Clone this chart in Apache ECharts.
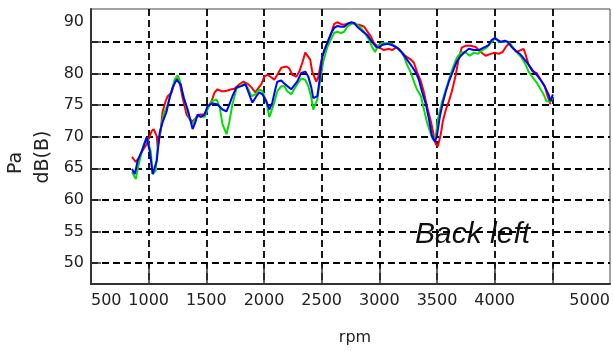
<!DOCTYPE html>
<html>
<head>
<meta charset="utf-8">
<script src="https://cdn.jsdelivr.net/npm/echarts@6/dist/echarts.min.js"></script>
<style>
  html, body { margin: 0; padding: 0; background: #fff; }
  #chart { width: 613px; height: 351px; }
</style>
</head>
<body>
<div id="chart"></div>
<script>
// x ticks / labels (rpm)
const xTicks = [1000, 1500, 2000, 2500, 3000, 3500, 4000, 4500];
const xLabels = [500, 1000, 1500, 2000, 2500, 3000, 3500, 4000, 5000];
// y ticks / labels (dB)
const yTicks = [50, 55, 60, 65, 70, 75, 80, 85];
const yLabels = [50, 55, 60, 65, 70, 75, 80, 90];

const redRpm = [855,888,914,940,957,983,1000,1026,1044,1070,1078,1104,1121,1147,1165,1199,1225,1251,1268,1294,1329,1355,1381,1415,1441,1484,1510,1545,1571,1597,1631,1657,1683,1718,1744,1787,1822,1856,1891,1925,1943,1977,2003,2029,2063,2089,2115,2150,2193,2219,2245,2280,2306,2332,2358,2375,2401,2418,2453,2470,2496,2522,2548,2583,2608,2634,2669,2695,2738,2764,2799,2825,2868,2894,2929,2955,2998,3041,3084,3110,3145,3171,3197,3231,3274,3300,3326,3361,3387,3413,3447,3473,3490,3508,3534,3551,3577,3603,3629,3663,3689,3715,3750,3793,3836,3879,3922,3966,4000,4035,4069,4104,4130,4156,4190,4225,4251,4268,4294,4329,4363,4398,4433,4459,4485];
const redDb = [66.8,66.0,66.6,67.6,68.1,68.8,69.6,70.9,71.2,70.1,68.4,70.9,74.0,75.6,76.4,77.0,78.6,79.2,78.6,76.2,73.5,72.8,72.4,73.1,73.5,73.5,74.6,75.6,77.0,77.5,77.2,77.2,77.3,77.5,77.6,78.3,78.7,78.4,77.8,77.0,77.5,78.3,79.5,79.8,79.4,79.0,79.8,80.9,81.1,80.8,79.8,79.5,80.3,81.7,83.3,83.3,82.2,80.3,78.7,79.4,81.9,83.7,84.8,86.4,87.8,88.1,87.8,87.7,88.0,88.0,87.7,87.7,87.4,86.7,85.8,84.8,84.1,83.7,83.9,83.7,84.1,83.9,83.3,82.7,82.2,81.7,80.3,78.7,77.0,74.8,72.4,70.1,68.8,68.5,70.5,72.5,74.3,75.6,77.2,79.8,82.5,84.1,84.4,84.4,84.2,83.4,82.8,83.1,83.3,83.1,83.4,84.4,84.8,84.1,83.4,83.7,83.9,83.0,81.4,80.3,80.1,79.0,78.0,76.4,75.1];

const greenRpm = [855,888,914,940,957,983,1000,1018,1035,1061,1078,1104,1130,1165,1199,1225,1251,1268,1294,1329,1355,1381,1415,1450,1484,1510,1545,1588,1614,1640,1675,1700,1726,1761,1804,1839,1865,1891,1925,1960,1986,2020,2046,2063,2089,2115,2150,2176,2202,2236,2262,2288,2323,2358,2384,2410,2427,2462,2488,2514,2548,2591,2608,2634,2669,2695,2721,2756,2782,2825,2868,2911,2937,2963,2989,3024,3067,3110,3153,3188,3214,3240,3274,3300,3326,3361,3387,3413,3447,3465,3490,3508,3542,3577,3603,3637,3672,3707,3750,3784,3819,3853,3888,3931,3974,4009,4035,4078,4121,4156,4190,4234,4268,4294,4329,4363,4398,4424,4450,4485,4505];
const greenDb = [64.4,63.3,65.7,67.6,68.8,69.9,69.9,67.7,64.1,64.6,68.4,71.2,73.5,75.1,77.2,79.0,79.7,79.0,77.0,74.6,72.8,72.0,73.1,73.3,73.1,74.3,75.6,75.9,74.8,72.0,70.4,72.4,75.1,77.6,78.1,78.4,77.5,76.4,76.7,77.5,77.2,75.6,73.1,73.3,75.4,77.2,78.0,78.0,77.2,76.7,77.5,78.3,79.2,79.0,78.0,76.2,74.3,75.9,79.0,81.9,84.1,85.8,86.4,86.6,86.4,86.6,87.4,87.8,88.0,87.5,86.6,85.3,84.2,83.4,84.4,84.8,84.8,84.7,84.1,83.4,82.7,81.4,80.1,78.7,77.5,76.4,74.3,72.3,70.4,69.5,70.1,72.8,75.4,77.5,79.0,80.9,82.5,83.3,83.3,82.8,83.3,83.1,83.6,84.1,85.0,85.6,85.0,85.0,85.0,84.2,83.4,82.5,81.4,80.3,79.4,78.6,77.5,76.7,75.6,75.6,76.2];

const blueRpm = [855,880,905,940,957,983,992,1009,1035,1070,1096,1121,1156,1182,1208,1242,1251,1277,1303,1338,1355,1381,1407,1424,1450,1484,1510,1554,1597,1640,1675,1700,1726,1761,1804,1839,1856,1882,1900,1934,1960,1986,2020,2046,2072,2098,2115,2150,2176,2202,2236,2262,2288,2323,2358,2384,2410,2427,2462,2479,2505,2548,2583,2608,2634,2669,2695,2721,2756,2782,2808,2851,2894,2937,2972,2998,3024,3067,3110,3153,3197,3240,3283,3318,3343,3369,3404,3430,3456,3482,3499,3525,3551,3577,3603,3637,3672,3707,3741,3776,3819,3862,3905,3948,3974,4000,4017,4052,4087,4113,4147,4182,4225,4260,4294,4329,4363,4398,4433,4467,4485,4493,4505];
const blueDb = [64.9,64.1,66.2,67.7,68.5,69.9,69.6,67.7,64.1,66.2,70.7,72.3,74.0,76.2,77.8,79.0,79.2,78.3,76.2,74.3,73.1,71.2,72.4,73.5,73.1,73.5,74.8,75.3,75.1,74.3,74.0,75.1,76.4,77.8,78.0,78.3,77.5,76.2,75.4,76.4,77.0,76.7,75.6,74.3,75.4,77.5,78.7,78.9,78.4,78.0,77.5,78.1,78.7,80.1,80.3,79.5,77.8,76.1,76.4,78.6,82.7,84.8,86.4,87.2,87.5,87.4,87.4,87.8,88.1,88.0,87.4,86.7,86.1,85.0,84.2,84.1,84.5,84.7,84.5,84.1,83.3,82.2,81.1,80.1,79.0,77.2,75.1,72.8,70.1,69.2,70.1,73.2,75.4,77.2,78.7,80.3,81.9,82.8,83.4,83.9,83.7,83.7,84.1,84.5,85.3,85.6,85.3,85.0,85.2,85.0,84.2,83.6,83.0,82.2,81.4,80.5,79.8,79.0,78.0,76.7,75.6,76.1,76.7];

const zip = (xs, ys) => xs.map((x, i) => [x, ys[i]]);

// top label "90" sits lower than its gridline in the original
const TOP_LABEL_AT = 88.1;
const yLabelPos = yLabels.map(v => (v === 90 ? TOP_LABEL_AT : v));

const chart = echarts.init(document.getElementById('chart'));

const gridLine = { show: true, lineStyle: { color: '#000', width: 1.8, type: [7, 4] } };
const tickFont = { fontFamily: 'DejaVu Sans', fontSize: 16, color: '#222' };

chart.setOption({
  animation: false,
  backgroundColor: '#fff',
  grid: {
    left: 91, right: 1, top: 9, bottom: 65,
    show: true, borderColor: '#444', borderWidth: 1,
  },
  xAxis: {
    type: 'value',
    min: 500,
    max: 5000,
    name: 'rpm',
    nameLocation: 'middle',
    nameGap: 46,
    nameTextStyle: { fontFamily: 'DejaVu Sans', fontSize: 16, color: '#222', padding: [0, 0, 0, 9] },
    axisLine: { show: true, lineStyle: { color: '#333', width: 2 } },
    axisTick: { show: true, inside: true, length: 17, customValues: xTicks, lineStyle: { color: '#333', width: 1.5 } },
    axisLabel: {
      ...tickFont,
      margin: 9,
      customValues: xLabels,
      alignMinLabel: 'left',
      alignMaxLabel: 'right',
      formatter: v => String(v),
    },
    splitLine: gridLine,
  },
  yAxis: {
    type: 'value',
    min: 46.7,
    max: 90.2,
    axisLine: { show: true, lineStyle: { color: '#333', width: 2 } },
    axisTick: { show: true, inside: true, length: 10, customValues: yTicks, lineStyle: { color: '#333', width: 1.5 } },
    axisLabel: {
      ...tickFont,
      margin: 7,
      customValues: yLabelPos,
      formatter: v => (v === TOP_LABEL_AT ? '90' : String(v)),
    },
    splitLine: gridLine,
  },
  graphic: [
    {
      type: 'text', x: 16, y: 163, rotation: Math.PI / 2,
      style: { text: 'Pa', fontFamily: 'DejaVu Sans', fontSize: 19, fill: '#222', align: 'center', verticalAlign: 'middle' },
    },
    {
      type: 'text', x: 43, y: 157, rotation: Math.PI / 2,
      style: { text: 'dB(B)', fontFamily: 'DejaVu Sans', fontSize: 19, fill: '#222', align: 'center', verticalAlign: 'middle' },
    },
    {
      type: 'text', x: 415, y: 235,
      style: { text: 'Back left', fontFamily: 'Liberation Sans', fontStyle: 'italic', fontSize: 30, fill: '#111', align: 'left', verticalAlign: 'middle' },
    },
  ],
  series: [
    { name: 'red', type: 'line', data: zip(redRpm, redDb), showSymbol: false, lineStyle: { color: '#ff0000', width: 2 }, itemStyle: { color: '#ff0000' } },
    { name: 'green', type: 'line', data: zip(greenRpm, greenDb), showSymbol: false, lineStyle: { color: '#00e000', width: 2 }, itemStyle: { color: '#00e000' } },
    { name: 'blue', type: 'line', data: zip(blueRpm, blueDb), showSymbol: false, lineStyle: { color: '#0000ff', width: 2 }, itemStyle: { color: '#0000ff' } },
  ],
});
</script>
</body>
</html>
